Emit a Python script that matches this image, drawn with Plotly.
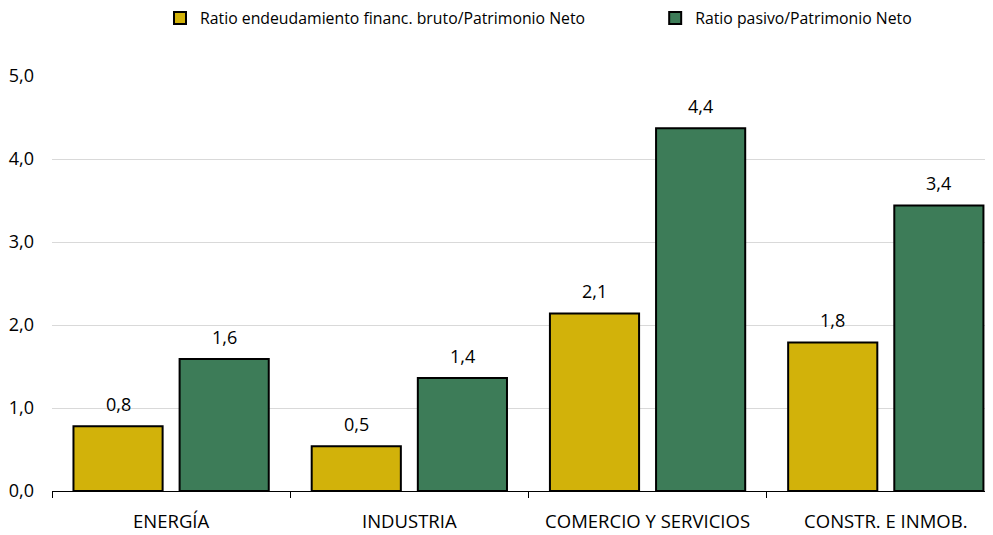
import plotly.graph_objects as go

categories = ["ENERGÍA", "INDUSTRIA", "COMERCIO Y SERVICIOS", "CONSTR. E INMOB."]
ratio_endeudamiento = [0.78, 0.54, 2.14, 1.79]
ratio_pasivo = [1.59, 1.36, 4.37, 3.44]
series_names = ["Ratio endeudamiento financ. bruto/Patrimonio Neto", "Ratio pasivo/Patrimonio Neto"]
y_ticks = [0, 1, 2, 3, 4, 5]

YELLOW = "#D2B20A"
GREEN = "#3D7C58"
FONT = "Open Sans"

fig = go.Figure()
series = [(series_names[0], ratio_endeudamiento, YELLOW, "legend", -53),
          (series_names[1], ratio_pasivo, GREEN, "legend2", 53)]
for name, vals, col, leg, xs in series:
    fig.add_trace(go.Bar(
        x=categories, y=vals, name=name, legend=leg,
        marker=dict(color=col, line=dict(color="#000000", width=2)),
        hoverinfo="x+y",
    ))
    for c, v in zip(categories, vals):
        fig.add_annotation(x=c, y=v, text=f"{v:.1f}".replace(".", ","),
                           showarrow=False, xshift=xs, yshift=8,
                           yanchor="bottom", xanchor="center",
                           font=dict(family=FONT, size=18, color="#000000"))

legend_common = dict(orientation="h", yref="container", y=0.981, yanchor="middle",
                     xanchor="left", font=dict(family=FONT, size=15.8, color="#000000"),
                     itemwidth=30, bgcolor="rgba(0,0,0,0)")

fig.update_layout(
    width=993, height=535,
    margin=dict(l=44, r=8, t=68, b=52, autoexpand=False),
    paper_bgcolor="white", plot_bgcolor="white",
    separators=",.",
    barmode="group", bargap=0.109, bargroupgap=0.16,
    font=dict(family=FONT, size=18, color="#000000"),
    showlegend=True,
    legend=dict(x=0.1148, **legend_common),
    legend2=dict(x=0.641, **legend_common),
)

fig.update_xaxes(
    range=[-0.5, 3.45], showline=True, linecolor="#000000", linewidth=1,
    ticks="outside", tickson="boundaries", ticklen=6, tickcolor="#000000",
    ticklabelstandoff=14, showgrid=False, automargin=False,
    tickfont=dict(family=FONT, size=18.5, color="#000000"),
)
fig.update_yaxes(
    range=[0, 5], tickvals=y_ticks, tickformat=".1f",
    showgrid=True, gridcolor="#D9D9D9", gridwidth=1,
    zeroline=False, showline=False, ticks="",
    ticklabelstandoff=17, automargin=False,
    tickfont=dict(family=FONT, size=18, color="#000000"),
)

fig.write_html("out.html")
